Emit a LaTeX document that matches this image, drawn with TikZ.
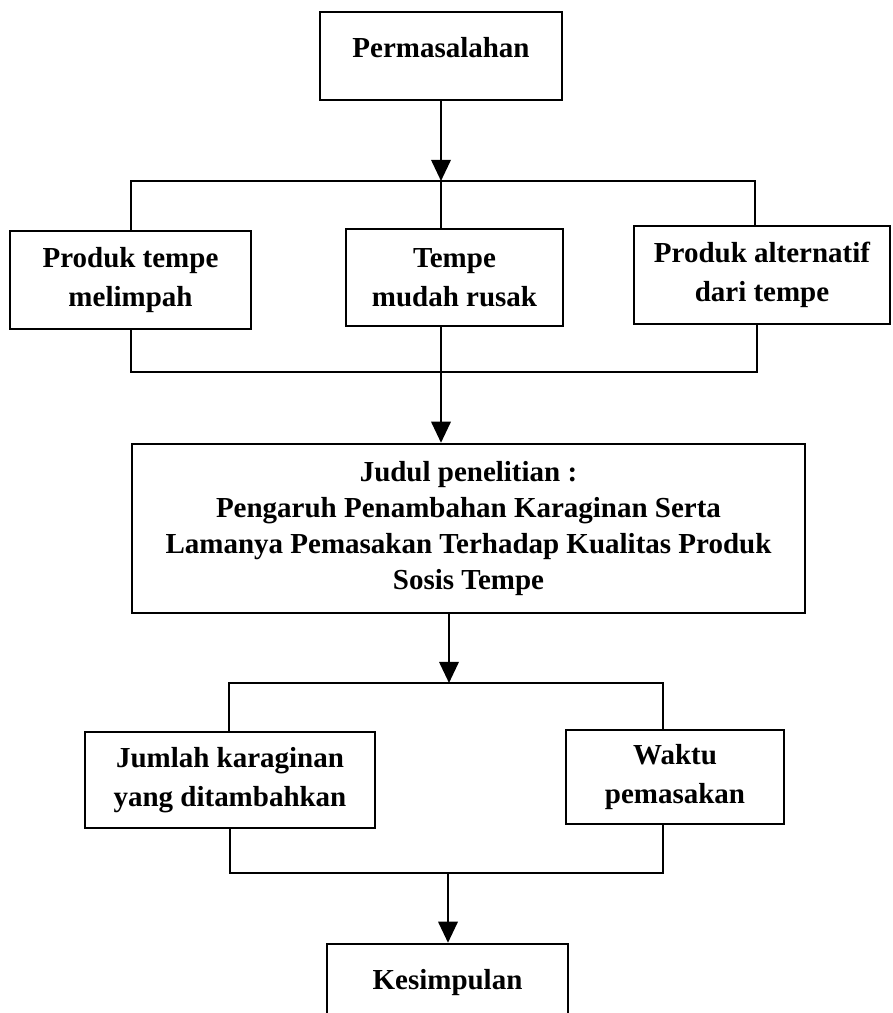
\documentclass[tikz,border=0pt]{standalone}
\usepackage{fontspec}
\setmainfont{Liberation Serif}
\usetikzlibrary{arrows.meta}

\begin{document}
\begin{tikzpicture}[x=0.02cm, y=-0.02cm,
    every node/.style={font=\bfseries\fontsize{16.5}{20.5}\selectfont},
    box/.style={draw, line width=1.4pt, inner sep=0pt, align=center},
    pair/.style={box, font=\bfseries\fontsize{16.5}{22}\selectfont},
    link/.style={line width=1.4pt},
    arr/.style={line width=1.4pt, -{Triangle[length=12pt, width=11pt]}}]
    \useasboundingbox (0,0) rectangle (892,1013);
    \clip (0,0) rectangle (892,1013);

    % Top node
    \node[box, minimum width=4.84cm, minimum height=1.76cm] (masalah) at (441,56) {Permasalahan\\[-11pt]~};

    % Problems
    \node[pair, minimum width=4.82cm, minimum height=1.96cm] (p1) at (130.5,280) {Produk tempe\\melimpah};
    \node[pair, minimum width=4.34cm, minimum height=1.94cm] (p2) at (454.5,277.5) {Tempe\\mudah rusak};
    \node[pair, minimum width=5.12cm, minimum height=1.96cm] (p3) at (762,275) {Produk alternatif\\dari tempe};

    % Title
    \node[box, minimum width=13.46cm, minimum height=3.38cm] (judul) at (468.5,528.5) {Judul penelitian :\\Pengaruh Penambahan Karaginan Serta\\Lamanya Pemasakan Terhadap Kualitas Produk\\Sosis Tempe};

    % Variables
    \node[pair, minimum width=5.8cm, minimum height=1.92cm] (jumlah) at (230,780) {Jumlah karaginan\\yang ditambahkan};
    \node[pair, minimum width=4.36cm, minimum height=1.88cm] (waktu) at (675,777) {Waktu\\pemasakan};

    % Bottom node
    \node[box, minimum width=4.82cm, minimum height=1.76cm] (simpul) at (447.5,988) {Kesimpulan\\[-11pt]~};

    % Bracket points
    \coordinate (t1) at (441,181);
    \coordinate (tl) at (131,181);
    \coordinate (tr) at (755,181);
    \coordinate (b1) at (441,372);
    \coordinate (bl) at (131,372);
    \coordinate (br) at (757,372);
    \coordinate (t2) at (449,683);
    \coordinate (tl2) at (229,683);
    \coordinate (tr2) at (663,683);
    \coordinate (b2) at (448,873);
    \coordinate (bl2) at (230,873);
    \coordinate (br2) at (663,873);

    % Lines
    \draw[arr] (masalah) -- (t1);
    \draw[link] (p1.north -| tl) -- (tl) -- (tr) -- (p3.north -| tr);
    \draw[link] (t1) -- (p2.north -| t1);
    \draw[link] (p1.south -| bl) -- (bl) -- (br) -- (p3.south -| br);
    \draw[link] (p2.south -| b1) -- (b1);
    \draw[arr] (b1) -- (judul.north -| b1);
    \draw[arr] (judul.south -| t2) -- (t2);
    \draw[link] (jumlah.north -| tl2) -- (tl2) -- (tr2) -- (waktu.north -| tr2);
    \draw[link] (jumlah.south -| bl2) -- (bl2) -- (br2) -- (waktu.south -| br2);
    \draw[arr] (b2) -- (simpul.north -| b2);
\end{tikzpicture}
\end{document}
